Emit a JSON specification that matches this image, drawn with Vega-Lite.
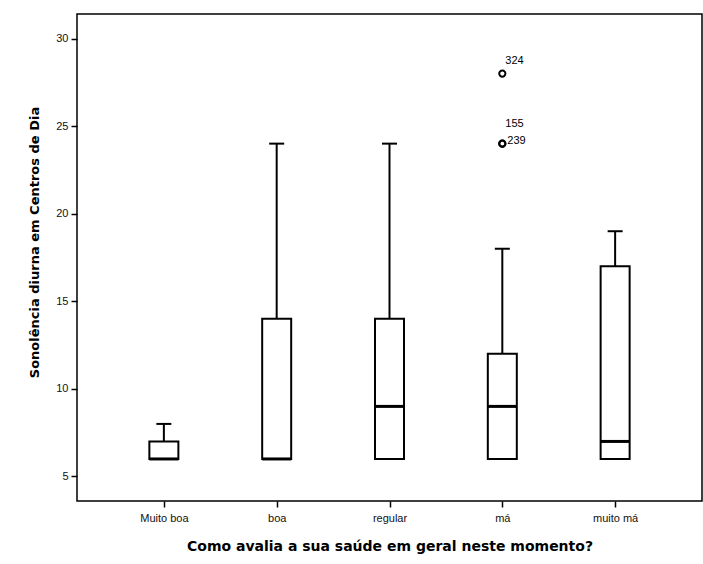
{
  "$schema": "https://vega.github.io/schema/vega-lite/v6.json",
  "autosize": {"type": "none"},
  "width": 625,
  "height": 487,
  "padding": {"left": 77, "top": 14, "right": 1, "bottom": 63},
  "background": "white",
  "config": {
    "font": "Liberation Sans",
    "view": {"stroke": "black", "strokeWidth": 1.5},
    "axis": {
      "domain": false,
      "grid": false,
      "tickColor": "black",
      "tickWidth": 1.5,
      "tickSize": 6,
      "labelFont": "Liberation Sans",
      "labelFontSize": 11,
      "labelColor": "#111",
      "titleFont": "DejaVu Sans",
      "titleFontSize": 14,
      "titleFontWeight": "bold",
      "titleColor": "black"
    }
  },
  "datasets": {
    "stats": [
      {"saude": "Muito boa", "lower": 6, "q1": 6, "median": 6, "q3": 7, "upper": 8},
      {"saude": "boa", "lower": 6, "q1": 6, "median": 6, "q3": 14, "upper": 24},
      {"saude": "regular", "lower": 6, "q1": 6, "median": 9, "q3": 14, "upper": 24},
      {"saude": "má", "lower": 6, "q1": 6, "median": 9, "q3": 12, "upper": 18},
      {"saude": "muito má", "lower": 6, "q1": 6, "median": 7, "q3": 17, "upper": 19}
    ],
    "outliers": [
      {"saude": "má", "valor": 28, "caso": "324"},
      {"saude": "má", "valor": 24, "caso": "155"},
      {"saude": "má", "valor": 24, "caso": "239"}
    ]
  },
  "encoding": {
    "x": {
      "field": "saude",
      "type": "nominal",
      "sort": ["Muito boa", "boa", "regular", "má", "muito má"],
      "scale": {"type": "point", "padding": 0.77},
      "axis": {
        "title": "Como avalia a sua saúde em geral neste momento?",
        "labelAngle": 0,
        "labelPadding": 5,
        "titlePadding": 16
      }
    }
  },
  "layer": [
    {
      "data": {"name": "stats"},
      "mark": {"type": "rule", "color": "black", "strokeWidth": 2},
      "encoding": {
        "y": {
          "field": "q3",
          "type": "quantitative",
          "scale": {"domain": [3.6, 31.4], "nice": false, "zero": false},
          "axis": {
            "title": "Sonolência diurna em Centros de Dia",
            "titleFontSize": 13,
            "titleY": 228,
            "values": [5, 10, 15, 20, 25, 30],
            "labelPadding": 3,
            "titlePadding": 14
          }
        },
        "y2": {"field": "upper"}
      }
    },
    {
      "data": {"name": "stats"},
      "mark": {"type": "tick", "color": "black", "opacity": 1, "size": 15, "thickness": 2, "orient": "horizontal"},
      "encoding": {"y": {"field": "upper", "type": "quantitative"}}
    },
    {
      "data": {"name": "stats"},
      "mark": {"type": "bar", "fill": "white", "stroke": "black", "strokeWidth": 2, "size": 29, "opacity": 1},
      "encoding": {
        "y": {"field": "q1", "type": "quantitative"},
        "y2": {"field": "q3"}
      }
    },
    {
      "data": {"name": "stats"},
      "mark": {"type": "tick", "color": "black", "opacity": 1, "size": 29, "thickness": 3, "orient": "horizontal"},
      "encoding": {"y": {"field": "median", "type": "quantitative"}}
    },
    {
      "data": {"name": "outliers"},
      "mark": {"type": "point", "shape": "circle", "filled": false, "stroke": "black", "strokeWidth": 2, "size": 38, "opacity": 1},
      "encoding": {"y": {"field": "valor", "type": "quantitative"}}
    },
    {
      "data": {"name": "outliers"},
      "transform": [{"filter": "datum.caso === '324'"}],
      "mark": {"type": "text", "align": "left", "baseline": "middle", "dx": 3, "dy": -13, "fontSize": 11, "color": "black"},
      "encoding": {"y": {"field": "valor", "type": "quantitative"}, "text": {"field": "caso"}}
    },
    {
      "data": {"name": "outliers"},
      "transform": [{"filter": "datum.caso === '155'"}],
      "mark": {"type": "text", "align": "left", "baseline": "middle", "dx": 3, "dy": -20, "fontSize": 11, "color": "black"},
      "encoding": {"y": {"field": "valor", "type": "quantitative"}, "text": {"field": "caso"}}
    },
    {
      "data": {"name": "outliers"},
      "transform": [{"filter": "datum.caso === '239'"}],
      "mark": {"type": "text", "align": "left", "baseline": "middle", "dx": 5, "dy": -3, "fontSize": 11, "color": "black"},
      "encoding": {"y": {"field": "valor", "type": "quantitative"}, "text": {"field": "caso"}}
    }
  ]
}
